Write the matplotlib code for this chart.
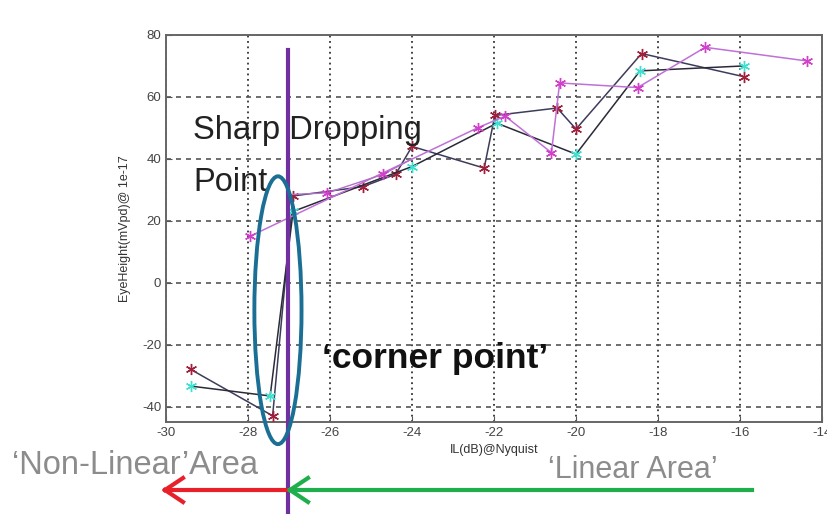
import matplotlib.pyplot as plt
from matplotlib.patches import Ellipse

# Eye height vs insertion loss, four measurement sets
il_red = [-29.4, -27.4, -26.9, -25.2, -24.4, -24.0, -22.24, -21.98, -20.46, -20.0, -18.4, -15.9]
eh_red = [-28, -43, 28, 31, 35, 44, 37, 54, 56.4, 49.6, 74, 66.5]

il_cyan = [-29.4, -27.46, -26.9, -24.0, -21.93, -20.0, -18.44, -15.9]
eh_cyan = [-33.4, -36.6, 23, 37.5, 51.5, 41.5, 68.4, 70]

il_mag = [-27.95, -22.4, -21.73, -20.6, -20.4, -18.5, -16.85, -14.37]
eh_mag = [15, 50, 53.8, 42, 64.5, 63, 76, 71.6]

il_mag2 = [-26.9, -26.07, -24.7, -24.0]
eh_mag2 = [28.5, 29, 35, 40]

x_ticks = [-30, -28, -26, -24, -22, -20, -18, -16, -14]
y_ticks = [-40, -20, 0, 20, 40, 60, 80]

corner_il = -27.02

plt.rcParams["font.family"] = ["Liberation Sans", "DejaVu Sans"]
plt.rcParams["axes.unicode_minus"] = False

fig = plt.figure(figsize=(8.28, 5.14), dpi=100)
ax = fig.add_axes([0.2005, 0.179, 0.7923, 0.753])

star = (6, 2, 0)
ax.plot(il_red, eh_red, color="#3c3c5c", lw=1.1, marker=star, ms=8,
        mfc="#a0203c", mec="#a0203c", zorder=3)
ax.plot(il_cyan, eh_cyan, color="#2a2a38", lw=1.1, marker=star, ms=8,
        mfc="#40e0d0", mec="#40e0d0", zorder=3)
ax.plot(il_mag, eh_mag, color="#c070d8", lw=1.1, marker=star, ms=8,
        mfc="#d040c8", mec="#d040c8", zorder=3)
ax.plot(il_mag2, eh_mag2, color="#b070c8", lw=1.0, marker=star, ms=8,
        mfc="#d040c8", mec="#d040c8", markevery=[1, 2], zorder=3)

ax.set_xlim(-30, -14)
ax.set_ylim(-45, 80)
ax.set_xticks(x_ticks)
ax.set_yticks(y_ticks)
ax.tick_params(direction="in", length=4, labelsize=9.5, labelcolor="#444444",
               color="#555555")
for s in ax.spines.values():
    s.set_color("#666666")
    s.set_linewidth(1.4)

ax.xaxis.grid(True, color="#333333", ls=(0, (1, 2)), lw=1.3)
ax.yaxis.grid(True, color="#555555", ls=(0, (3, 3)), lw=1.2)
ax.set_axisbelow(True)

ax.set_xlabel("IL(dB)@Nyquist", fontsize=9, color="#333333", labelpad=4)
ax.set_ylabel("EyeHeight(mVpd)@ 1e-17", fontsize=9, color="#333333", labelpad=8)

# corner marker line, extends below the axes
ax.plot([corner_il, corner_il], [75.2, -76], color="#7030a0", lw=3,
        clip_on=False, zorder=5)

ax.add_patch(Ellipse((-27.27, -8.9), 1.15, 86.5, fill=False,
                     ec="#1b6f94", lw=2.8, zorder=6, clip_on=False))

ax.text(-29.33, 49.3, "Sharp Dropping", fontsize=23.5, color="#222222", va="center")
ax.text(-29.33, 32.3, "Point", fontsize=23.5, color="#222222", va="center")
ax.text(-26.2, -24.5, "\u2018corner point\u2019", fontsize=25.5, fontweight="bold",
        color="#111111", va="center")

# region labels and arrows below the axes
fig.text(12 / 828, 1 - 465 / 514, "\u2018Non-Linear\u2019Area", fontsize=23.5,
         color="#8c8c8c", va="center")
fig.text(548 / 828, 1 - 470 / 514, "\u2018Linear Area\u2019", fontsize=22,
         color="#8c8c8c", va="center")

y_arr = 1 - 490 / 514
fig.add_artist(plt.Line2D([165 / 828, 287 / 828], [y_arr, y_arr], color="#e8202a", lw=3))
fig.add_artist(plt.Line2D([165 / 828, 183 / 828], [y_arr, y_arr + 12 / 514],
                          color="#e8202a", lw=3))
fig.add_artist(plt.Line2D([165 / 828, 183 / 828], [y_arr, y_arr - 12 / 514],
                          color="#e8202a", lw=3))
fig.add_artist(plt.Line2D([290 / 828, 752 / 828], [y_arr, y_arr], color="#1fae4c", lw=3))
fig.add_artist(plt.Line2D([290 / 828, 308 / 828], [y_arr, y_arr + 12 / 514],
                          color="#1fae4c", lw=3))
fig.add_artist(plt.Line2D([290 / 828, 308 / 828], [y_arr, y_arr - 12 / 514],
                          color="#1fae4c", lw=3))

fig.savefig("out.png", dpi=100)
